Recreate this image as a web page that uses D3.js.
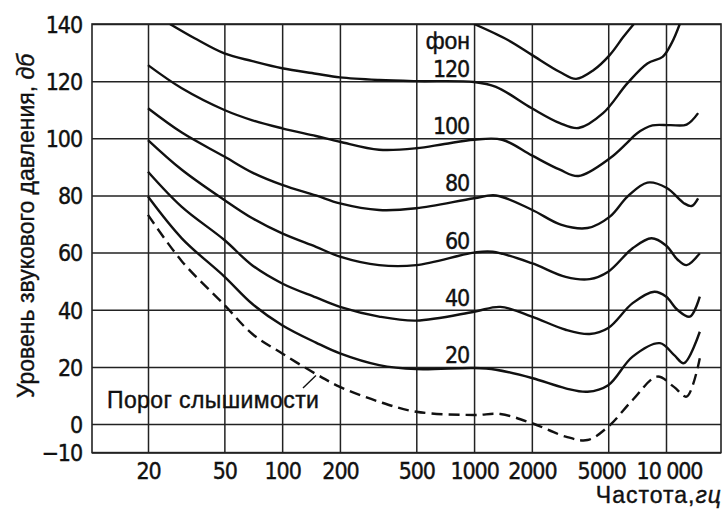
<!DOCTYPE html>
<html>
<head>
<meta charset="utf-8">
<script src="https://cdn.jsdelivr.net/npm/d3@7"></script>
<style>
body { margin: 0; background: #fff; }
text { fill: #111; stroke: #111; stroke-width: 0.4px; }
.num { font-family: "DejaVu Sans Condensed", "Liberation Sans Narrow", sans-serif; font-size: 23px; letter-spacing: -1.1px; }
.lbl { font-family: "Liberation Sans", "DejaVu Sans", sans-serif; font-size: 23px; }
</style>
</head>
<body>
<script>
// equal loudness curves (Hz, dB)
var freqTicks = [20, 50, 100, 200, 500, 1000, 2000, 5000, 10000];
var freqLabels = ["20", "50", "100", "200", "500", "1000", "2000", "5000", "10 000"];
var levelTicks = [140, 120, 100, 80, 60, 40, 20, 0, -10];
var levelLabels = ["140", "120", "100", "80", "60", "40", "20", "0", "\u221210"];
var phonLevels = [120, 100, 80, 60, 40, 20];

var phon140 = [[1000,140],[1500,134.4],[2000,129.2],[2800,123.2],[3400,120.8],[4200,123.9],[5100,129.2],[6000,135.5],[6800,140]];
var phon120 = [[26,140],[35,135],[50,129.7],[70,127],[100,124.5],[150,122.6],[200,121.3],[320,120.4],[500,120],[1000,119.7],[1300,118],[2000,110.5],[2800,105.3],[3500,103.6],[4700,108.8],[6300,119.3],[8000,126.2],[9600,128.5],[10700,133.3],[11800,140]];
var phon100 = [[20,125.6],[30,117.5],[50,109.9],[70,106.3],[100,103.5],[150,100.8],[200,98.8],[320,96],[500,96.5],[700,98],[1000,99.5],[1400,99.5],[2000,94],[2800,89],[3500,86.8],[5100,93],[6250,98.3],[7050,101.7],[8500,104.5],[10500,104.6],[12800,104.8],[14700,108.8]];
var phon80 = [[20,110.5],[30,102],[50,93.6],[70,88],[100,83.7],[150,80],[200,77.2],[320,74.9],[500,75.5],[1000,79],[1300,80],[2000,75],[2830,69.8],[3900,68.6],[5100,72.6],[6300,79.6],[8000,84.5],[10100,82.6],[12400,77.3],[13600,76.3],[14700,79]];
var phon60 = [[20,99.4],[30,89],[50,78.4],[70,72],[100,66.7],[150,62],[200,58.6],[320,55.6],[500,55.6],[1000,60],[1250,60.3],[2000,56.3],[3000,51.5],[4000,50.7],[5000,53.3],[6700,61.5],[8400,65],[10000,62.5],[11500,57.5],[12800,55.6],[15000,59.8]];
var phon40 = [[20,88.3],[30,76],[50,64.4],[70,55.5],[100,49.2],[150,44.3],[200,41],[320,37.6],[500,36.2],[1000,39.3],[1370,41],[2000,37.6],[3000,33],[4000,31.5],[5000,33.6],[6700,42.3],[8700,46.3],[10000,44.6],[11500,39.9],[13300,37.6],[15000,44.6]];
var phon20 = [[20,79.6],[30,65],[50,51.6],[70,42],[100,34.6],[150,28.5],[200,24.7],[320,20.6],[500,19.2],[1000,19.6],[1300,19],[2000,16.1],[3000,12.5],[3900,11.3],[5000,13.6],[6700,23.6],[9300,28.3],[11000,24.2],[12400,21.3],[15000,32.3]];
var threshold = [[20,73.2],[30,57],[50,41.7],[70,31.5],[100,24.7],[150,17.5],[200,13],[320,7.8],[500,4.3],[1000,3.15],[1370,3.5],[2000,0.3],[3000,-4.4],[3900,-5.6],[5000,-0.9],[6700,8.4],[9000,16.6],[11000,13],[12800,9.6],[15000,23]];
var thresholdPointer = [150, 17];

var W = 723, H = 511,
	pL = 92, pR = 721, pT = 24, pB = 452.6;

var x = d3.scaleLog().domain([20, 10000]).range([148, 666]);
var y = d3.scaleLinear().domain([-10, 140]).range([pB, pT]);

var svg = d3.select("body")
	.append("svg")
	.attr("width", W)
	.attr("height", H);

svg.append("clipPath").attr("id", "plot")
	.append("rect")
	.attr("x", pL).attr("y", pT)
	.attr("width", pR - pL).attr("height", pB - pT);

// grid + tick labels via axes
var yAxis = d3.axisLeft(y)
	.tickValues(levelTicks)
	.tickFormat((d, i) => levelLabels[i])
	.tickSize(-(pR - pL))
	.tickPadding(10);

var xAxis = d3.axisBottom(x)
	.tickValues(freqTicks)
	.tickFormat((d, i) => freqLabels[i])
	.tickSize(-(pB - pT))
	.tickPadding(10);

var gy = svg.append("g").attr("transform", "translate(" + pL + ",0)").call(yAxis);
var gx = svg.append("g").attr("transform", "translate(0," + pB + ")").call(xAxis);

[gx, gy].forEach(g => {
	g.attr("font-family", null).attr("font-size", null);
	g.select(".domain").remove();
	g.selectAll("line").attr("stroke", "#222").attr("stroke-width", 1.5);
	g.selectAll("text").attr("class", "num").attr("fill", "#111");
});
gy.selectAll("text").attr("dy", "0.36em");
// the last two labels sit a bit apart, as in the print
gx.selectAll("text").attr("dx", d => d === 5000 ? -7 : (d === 10000 ? 3 : 0));

svg.append("rect")
	.attr("x", pL).attr("y", pT)
	.attr("width", pR - pL).attr("height", pB - pT)
	.attr("fill", "none").attr("stroke", "#222").attr("stroke-width", 1.6);

// curves
var line = d3.line()
	.x(d => x(d[0]))
	.y(d => y(d[1]))
	.curve(d3.curveCatmullRom.alpha(0.5));

var curves = [phon140, phon120, phon100, phon80, phon60, phon40, phon20];

svg.append("g").attr("clip-path", "url(#plot)")
	.selectAll("path.solid")
	.data(curves)
	.enter()
	.append("path")
	.attr("class", "solid")
	.attr("d", line)
	.attr("fill", "none")
	.attr("stroke", "#111")
	.attr("stroke-width", 2.4);

svg.append("path")
	.datum(threshold)
	.attr("d", line)
	.attr("fill", "none")
	.attr("stroke", "#111")
	.attr("stroke-width", 2.4)
	.attr("stroke-dasharray", "11,6");

// curve labels
svg.selectAll("text.phon")
	.data(phonLevels)
	.enter()
	.append("text")
	.attr("class", "num phon")
	.attr("x", x(1000) - 5)
	.attr("y", d => y(d) - 4)
	.attr("text-anchor", "end")
	.text(d => d);

svg.append("text")
	.attr("class", "lbl")
	.attr("x", x(1000) - 4)
	.attr("y", y(120) - 32)
	.attr("text-anchor", "end")
	.text("фон");

svg.append("text")
	.attr("class", "lbl")
	.attr("x", 107)
	.attr("y", 408)
	.attr("letter-spacing", "0.4px")
	.text("Порог слышимости");

svg.append("line")
	.attr("x1", 303).attr("y1", 388)
	.attr("x2", x(thresholdPointer[0])).attr("y2", y(thresholdPointer[1]))
	.attr("stroke", "#111").attr("stroke-width", 1.4);

// axis titles
var yt = svg.append("text")
	.attr("class", "lbl")
	.attr("font-size", "24px")
	.attr("transform", "translate(34,226) rotate(-90)")
	.attr("text-anchor", "middle");
yt.append("tspan").text("Уровень звукового давления, ");
yt.append("tspan").attr("font-style", "italic").text("дб");

var xt = svg.append("text")
	.attr("class", "lbl")
	.attr("x", 722)
	.attr("y", 503)
	.attr("letter-spacing", "1px")
	.attr("text-anchor", "end");
xt.append("tspan").text("Частота,");
xt.append("tspan").attr("font-style", "italic").text("гц");
</script>
</body>
</html>
